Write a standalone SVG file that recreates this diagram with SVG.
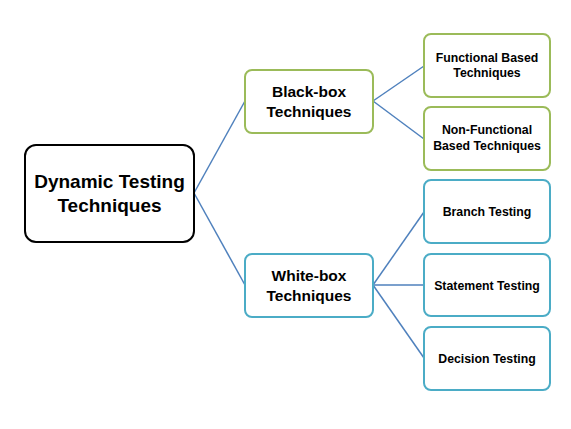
<svg xmlns="http://www.w3.org/2000/svg" width="571" height="429" viewBox="0 0 571 429">
<style>
text{font-family:"Liberation Sans",Arial,sans-serif;font-weight:bold;fill:#000;text-anchor:middle}
.root{fill:#fff;stroke:#000;stroke-width:2}
.green{fill:#fff;stroke:#9BBB59;stroke-width:2}
.teal{fill:#fff;stroke:#4BACC6;stroke-width:2}
.big{font-size:19px}
.mid{font-size:15.5px}
.small{font-size:12.3px}
#connectors line{stroke:#4F81BD;stroke-width:1.5}
</style>
<rect width="571" height="429" fill="#fff"/>
<g id="connectors">
<line x1="194" y1="193" x2="245" y2="101"/>
<line x1="194" y1="193" x2="245" y2="285"/>
<line x1="373" y1="101" x2="424" y2="66"/>
<line x1="373" y1="101" x2="424" y2="139"/>
<line x1="373" y1="285" x2="424" y2="212"/>
<line x1="373" y1="285" x2="424" y2="285"/>
<line x1="373" y1="285" x2="424" y2="358"/>
</g>
<g id="root">
<rect class="root" x="25" y="145" width="169" height="97" rx="11"/>
<text class="big" x="109.5" y="188">Dynamic Testing</text>
<text class="big" x="109.5" y="212">Techniques</text>
</g>
<g id="blackbox">
<rect class="green" x="245" y="70" width="128" height="63" rx="7"/>
<text class="mid" x="309" y="97">Black-box</text>
<text class="mid" x="309" y="117">Techniques</text>
</g>
<g id="whitebox">
<rect class="teal" x="245" y="254" width="128" height="63" rx="7"/>
<text class="mid" x="309" y="281">White-box</text>
<text class="mid" x="309" y="301">Techniques</text>
</g>
<g id="functional">
<rect class="green" x="424" y="34" width="126" height="63" rx="7"/>
<text class="small" x="487" y="62">Functional Based</text>
<text class="small" x="487" y="77">Techniques</text>
</g>
<g id="nonfunctional">
<rect class="green" x="424" y="107" width="126" height="63" rx="7"/>
<text class="small" x="487" y="134">Non-Functional</text>
<text class="small" x="487" y="150">Based Techniques</text>
</g>
<g id="branch">
<rect class="teal" x="424" y="180" width="126" height="63" rx="7"/>
<text class="small" x="487" y="216">Branch Testing</text>
</g>
<g id="statement">
<rect class="teal" x="424" y="254" width="126" height="62" rx="7"/>
<text class="small" x="487" y="290">Statement Testing</text>
</g>
<g id="decision">
<rect class="teal" x="424" y="327" width="126" height="63" rx="7"/>
<text class="small" x="487" y="363">Decision Testing</text>
</g>
</svg>
